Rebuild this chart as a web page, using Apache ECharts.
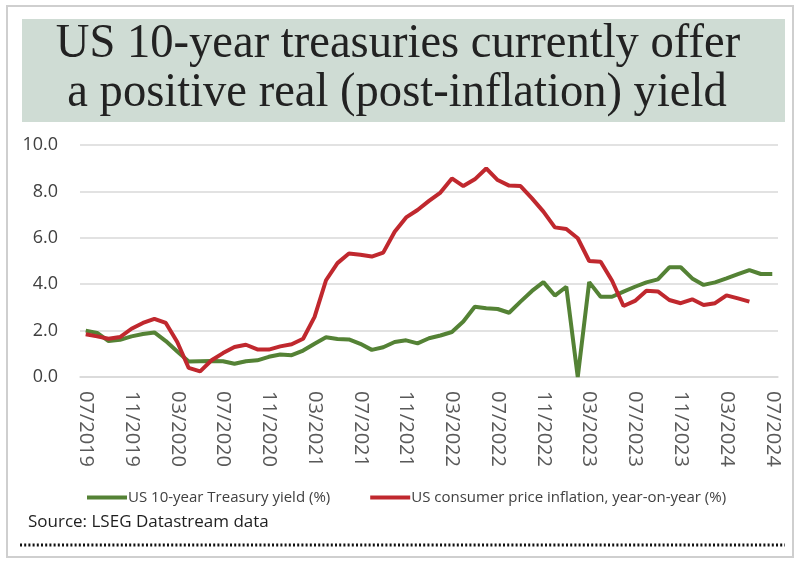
<!DOCTYPE html>
<html>
<head>
<meta charset="utf-8">
<script src="https://cdn.jsdelivr.net/npm/echarts@6/dist/echarts.min.js"></script>
<style>
html,body{margin:0;padding:0;background:#fff;}
#chart{width:800px;height:563px;}
</style>
</head>
<body>
<div id="chart"></div>
<script>
var categories = [
 '07/2019','08/2019','09/2019','10/2019','11/2019','12/2019',
 '01/2020','02/2020','03/2020','04/2020','05/2020','06/2020','07/2020','08/2020','09/2020','10/2020','11/2020','12/2020',
 '01/2021','02/2021','03/2021','04/2021','05/2021','06/2021','07/2021','08/2021','09/2021','10/2021','11/2021','12/2021',
 '01/2022','02/2022','03/2022','04/2022','05/2022','06/2022','07/2022','08/2022','09/2022','10/2022','11/2022','12/2022',
 '01/2023','02/2023','03/2023','04/2023','05/2023','06/2023','07/2023','08/2023','09/2023','10/2023','11/2023','12/2023',
 '01/2024','02/2024','03/2024','04/2024','05/2024','06/2024','07/2024'
];
var treasuryYield = [
 2.0, 1.9, 1.55, 1.6, 1.75, 1.85,
 1.92, 1.55, 1.1, 0.67, 0.68, 0.69, 0.68, 0.57, 0.68, 0.72, 0.87, 0.97,
 0.94, 1.14, 1.43, 1.71, 1.64, 1.62, 1.43, 1.17, 1.28, 1.51, 1.58, 1.45,
 1.67, 1.79, 1.94, 2.39, 3.03, 2.96, 2.93, 2.77, 3.25, 3.71, 4.09, 3.51,
 3.89, 0.0, 4.09, 3.46, 3.46, 3.68, 3.89, 4.08, 4.21, 4.73, 4.73, 4.25,
 3.97, 4.08, 4.25, 4.43, 4.61, 4.44, 4.44
];
var inflation = [
 1.84, 1.75, 1.65, 1.72, 2.08, 2.33,
 2.51, 2.33, 1.51, 0.39, 0.24, 0.72, 1.03, 1.29, 1.39, 1.19, 1.18, 1.32,
 1.41, 1.65, 2.59, 4.17, 4.91, 5.32, 5.27, 5.19, 5.36, 6.26, 6.88, 7.2,
 7.59, 7.95, 8.56, 8.23, 8.52, 8.99, 8.49, 8.25, 8.23, 7.7, 7.13, 6.45,
 6.38, 5.98, 5.0, 4.97, 4.15, 3.06, 3.28, 3.72, 3.69, 3.32, 3.18, 3.35,
 3.1, 3.18, 3.52, 3.39, 3.25, null, null
];
var yTicks = [0, 2, 4, 6, 8, 10];
var seriesNames = ['US 10-year Treasury yield (%)', 'US consumer price inflation, year-on-year (%)'];

var chart = echarts.init(document.getElementById('chart'), null, {renderer:'canvas'});
var uiFont = '"Liberation Sans Narrow", "Open Sans", sans-serif';
var option = {
  animation: false,
  backgroundColor: '#ffffff',
  grid: {left: 80, right: 22, top: 145, bottom: 186, containLabel: false},
  xAxis: {
    type: 'category',
    data: categories,
    boundaryGap: true,
    axisLine: {lineStyle: {color: '#d9d9d9', width: 1.5}},
    axisTick: {interval: 3, length: 6, lineStyle: {color: '#d9d9d9', width: 1.5}},
    axisLabel: {interval: 3, rotate: -90, margin: 14, color: '#595959', fontSize: 20, fontFamily: '"Open Sans", sans-serif'},
    splitLine: {show: false}
  },
  yAxis: {
    type: 'value',
    min: yTicks[0], max: yTicks[yTicks.length - 1], interval: 2,
    axisLine: {show: false},
    axisTick: {show: false},
    axisLabel: {margin: 22, color: '#404040', fontSize: 18, fontFamily: '"Open Sans", sans-serif',
      formatter: function (v) { return v.toFixed(1); }},
    splitLine: {lineStyle: {color: '#d9d9d9', width: 1.5}}
  },
  legend: {
    data: seriesNames,
    left: 82, top: 485,
    icon: 'rect', itemWidth: 40, itemHeight: 4, itemGap: 40,
    textStyle: {fontSize: 15, color: '#404040', fontFamily: uiFont, padding: [0,0,0,-4]}
  },
  series: [
    {name: seriesNames[0], type: 'line', data: treasuryYield, symbol: 'none', lineStyle: {color: '#548235', width: 4}, itemStyle: {color: '#548235'}},
    {name: seriesNames[1], type: 'line', data: inflation, symbol: 'none', lineStyle: {color: '#c0282e', width: 4}, itemStyle: {color: '#c0282e'}}
  ],
  graphic: [
    {type: 'rect', silent: true, shape: {x: 7, y: 6, width: 786, height: 551}, style: {fill: 'none', stroke: '#cfcfcf', lineWidth: 2}},
    {type: 'rect', silent: true, shape: {x: 22, y: 19, width: 763, height: 103}, style: {fill: '#cfdcd4'}},
    {type: 'text', silent: true, x: 398, y: 44, scaleX: 0.97,
      style: {text: 'US 10-year treasuries currently offer', font: '48px "Liberation Serif", serif', textAlign: 'center', textVerticalAlign: 'middle', fill: '#222222'}},
    {type: 'text', silent: true, x: 397, y: 93, scaleX: 0.97,
      style: {text: 'a positive real (post-inflation) yield', font: '48px "Liberation Serif", serif', textAlign: 'center', textVerticalAlign: 'middle', fill: '#222222'}},
    {type: 'text', silent: true, x: 28, y: 522,
      style: {text: 'Source: LSEG Datastream data', font: '17px ' + uiFont, textAlign: 'left', textVerticalAlign: 'middle', fill: '#1e1e1e'}},
    {type: 'line', silent: true, shape: {x1: 20, y1: 545, x2: 785, y2: 545}, style: {stroke: '#111', lineWidth: 3, lineDash: [2, 2.2]}}
  ]
};
chart.setOption(option);
</script>
</body>
</html>
